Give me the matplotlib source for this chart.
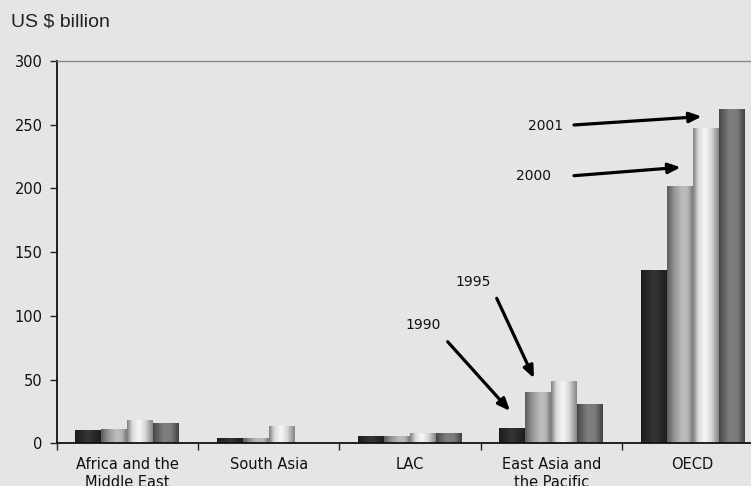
import numpy as np
import matplotlib
matplotlib.use("Agg")
import matplotlib.pyplot as plt

# Regional values, US $ billion
regions = ["Africa and the\nMiddle East", "South Asia", "LAC",
           "East Asia and\nthe Pacific", "OECD"]
years = ["1990", "1995", "2000", "2001"]
v1990 = [10.5, 4.2, 5.7, 12.3, 136.0]
v1995 = [11.5, 4.0, 5.7, 39.9, 202.0]
v2000 = [18.3, 13.9, 8.3, 48.5, 247.5]
v2001 = [16.2, 0.0, 8.3, 31.0, 262.5]
series = [v1990, v1995, v2000, v2001]

# Horizontal shading profile of each year's bars (position, grey level)
shading = [
    ([0.0, 0.5, 1.0], [0.11, 0.21, 0.12]),
    ([0.0, 0.3, 0.6, 0.8, 1.0], [0.36, 0.60, 0.74, 0.72, 0.48]),
    ([0.0, 0.2, 0.45, 0.7, 1.0], [0.50, 0.85, 0.97, 0.85, 0.52]),
    ([0.0, 0.4, 0.7, 1.0], [0.28, 0.50, 0.48, 0.26]),
]

# Year call-outs: label position, arrow start, arrow tip (data coords)
callouts = [
    ("1990", (2.094, 92.9), (2.267, 79.7), (2.708, 25.4)),
    ("1995", (2.446, 126.6), (2.614, 113.8), (2.878, 51.0)),
    ("2000", (2.871, 209.8), (3.161, 210.0), (3.916, 216.6)),
    ("2001", (2.957, 249.0), (3.161, 249.8), (4.065, 256.4)),
]

BG = "#e5e5e5"
W, H = 751, 486
fig = plt.figure(figsize=(W / 100, H / 100), dpi=100, facecolor=BG)
ax = fig.add_axes([56.7 / W, 42.7 / H, 141.3 * 5 / W, 382.3 / H], facecolor=BG)

x = np.arange(len(regions))
bw = 0.184
ramp = np.linspace(0, 1, 64)
for k, vals in enumerate(series):
    bars = ax.bar(x + (k - 1.5) * bw, vals, width=bw, facecolor="none",
                  edgecolor="none", zorder=2)
    pos, lev = shading[k]
    row = np.interp(ramp, pos, lev)[None, :]
    for b in bars:
        if b.get_height() <= 0:
            continue
        x0, y0 = b.get_x(), b.get_y()
        im = ax.imshow(row, cmap="gray", vmin=0, vmax=1, aspect="auto",
                       interpolation="bilinear",
                       extent=(x0, x0 + b.get_width(), y0, y0 + b.get_height()),
                       zorder=2)
        im.set_clip_path(b)

ax.set_xlim(-0.5, len(regions) - 0.5)
ax.set_ylim(0, 300)
ax.set_yticks(np.arange(0, 301, 50))

ax.set_xticks(x)
ax.set_xticklabels(regions, fontsize=10.5, family="DejaVu Sans",
                   color="#111111", linespacing=1.2)
ax.set_xticks(np.arange(-0.5, len(regions) + 0.5, 1.0), minor=True)
ax.tick_params(axis="x", which="major", length=0, pad=10)
ax.tick_params(axis="x", which="minor", length=5, width=1.0, color="#222222",
               direction="out")
ax.tick_params(axis="y", length=5, width=1.0, color="#222222", pad=5,
               labelsize=10.5, labelcolor="#111111")
for lab in ax.get_yticklabels():
    lab.set_family("DejaVu Sans")

for side in ["left", "bottom"]:
    ax.spines[side].set_color("#111111")
    ax.spines[side].set_linewidth(1.3)
ax.spines["top"].set_color("#8a8a8a")
ax.spines["top"].set_linewidth(1.0)
ax.spines["right"].set_visible(False)

for label, tpos, start, tip in callouts:
    ax.text(*tpos, label, ha="center", va="center", fontsize=10,
            family="DejaVu Sans", color="#111111", zorder=4)
    ax.annotate("", xy=tip, xytext=start,
                arrowprops=dict(arrowstyle="-|>,head_length=0.45,head_width=0.19",
                                lw=2.3, color="black", shrinkA=0, shrinkB=0,
                                mutation_scale=16),
                zorder=4)

fig.text(11 / W, 1 - 22 / H, "US $ billion", ha="left", va="center",
         fontsize=14, family="Liberation Sans", color="#222222")

fig.savefig("out.png", dpi=100, facecolor=BG)
